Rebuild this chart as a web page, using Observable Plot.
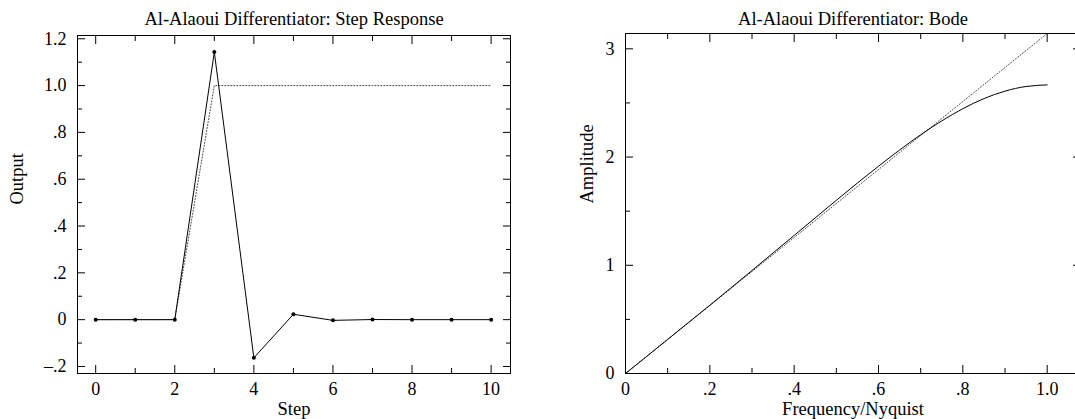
<!DOCTYPE html>
<html>
<head>
<meta charset="utf-8">
<script src="https://cdn.jsdelivr.net/npm/d3@7"></script>
<script src="https://cdn.jsdelivr.net/npm/@observablehq/plot@0.6"></script>
<style>
  body { margin: 0; background: white; }
  #wrap { display: flex; width: 1075px; height: 419px; overflow: hidden; }
  #wrap svg { flex: none; max-width: none !important; font-family: "Liberation Serif", "Times New Roman", serif !important; font-size: 18px !important; background: white; }
</style>
</head>
<body>
<div id="wrap"></div>
<script>
// ---- Data: step response ----
const steps = [0, 1, 2, 3, 4, 5, 6, 7, 8, 9, 10];
const stepOutput = [0, 0, 0, 1.143, -0.163, 0.023, -0.003, 0.0005, 0, 0, 0];
const stepIdeal = [0, 0, 0, 1, 1, 1, 1, 1, 1, 1, 1];

// ---- Data: Bode amplitude ----
const freq = [0, 0.05, 0.1, 0.15, 0.2, 0.25, 0.3, 0.35, 0.4, 0.45, 0.5,
              0.55, 0.6, 0.65, 0.7, 0.75, 0.8, 0.85, 0.9, 0.95, 1.0];
const amplitude = [0, 0.157, 0.315, 0.473, 0.631, 0.791, 0.952, 1.114, 1.276, 1.438, 1.600,
                   1.760, 1.915, 2.065, 2.206, 2.334, 2.447, 2.540, 2.609, 2.652, 2.667];
const idealFreq = [0, 1];
const idealAmp = [0, 3.1416];

// ---- Tick labels ----
const leftXMajor = [0, 2, 4, 6, 8, 10];
const leftXMinor = [1, 3, 5, 7, 9];
const leftXLabels = ["0", "2", "4", "6", "8", "10"];
const leftYMajor = [-0.2, 0, 0.2, 0.4, 0.6, 0.8, 1.0, 1.2];
const leftYMinor = [-0.1, 0.1, 0.3, 0.5, 0.7, 0.9, 1.1];
const leftYLabels = ["–.2", "0", ".2", ".4", ".6", ".8", "1.0", "1.2"];

const rightXMajor = [0, 0.2, 0.4, 0.6, 0.8, 1.0];
const rightXMinor = [0.1, 0.3, 0.5, 0.7, 0.9];
const rightXLabels = ["0", ".2", ".4", ".6", ".8", "1.0"];
const rightYMajor = [0, 1, 2, 3];
const rightYMinor = [0.5, 1.5, 2.5];
const rightYLabels = ["0", "1", "2", "3"];

const stepData = steps.map((s, i) => ({s, y: stepOutput[i], ideal: stepIdeal[i]}));
const bodeData = freq.map((f, i) => ({f, a: amplitude[i]}));
const idealData = idealFreq.map((f, i) => ({f, a: idealAmp[i]}));

function fmtFrom(values, labels) {
  return d => {
    const i = values.findIndex(v => Math.abs(v - d) < 1e-9);
    return i >= 0 ? labels[i] : "";
  };
}

function frameAxes(o) {
  const none = () => "";
  const m = [];
  for (const anchor of ["bottom", "top"]) {
    m.push(Plot.axisX(o.xMajor, {anchor, tickSize: -8, tickFormat: none, label: null}));
    m.push(Plot.axisX(o.xMinor, {anchor, tickSize: -5, tickFormat: none, label: null}));
  }
  for (const anchor of ["left", "right"]) {
    m.push(Plot.axisY(o.yMajor, {anchor, tickSize: -8, tickFormat: none, label: null}));
    m.push(Plot.axisY(o.yMinor, {anchor, tickSize: -5, tickFormat: none, label: null}));
  }
  m.push(Plot.axisX(o.xMajor, {anchor: "bottom", tickSize: 0, tickPadding: 9, fontSize: 18, tickFormat: fmtFrom(o.xMajor, o.xLabels), label: null}));
  m.push(Plot.axisY(o.yMajor, {anchor: "left", tickSize: 0, tickPadding: 11, fontSize: 18, tickFormat: fmtFrom(o.yMajor, o.yLabels), label: null}));
  m.push(Plot.frame({stroke: "black", strokeWidth: 1}));
  m.push(Plot.text([o.title], {text: d => d, frameAnchor: "top", lineAnchor: "top", dy: o.titleDy, fontSize: 18.5}));
  m.push(Plot.text([o.xLabel], {text: d => d, frameAnchor: "bottom", lineAnchor: "top", dy: 28, fontSize: 18.5}));
  m.push(Plot.text([o.yLabel], {text: d => d, frameAnchor: "left", rotate: -90, dx: o.yLabelDx, fontSize: 18.5}));
  return m;
}

const left = Plot.plot({
  width: 537, height: 419,
  marginLeft: 77, marginRight: 27, marginTop: 35, marginBottom: 46,
  x: {domain: [-0.46, 10.49], axis: null},
  y: {domain: [-0.23, 1.214], axis: null},
  marks: [
    Plot.line(stepData, {x: "s", y: "ideal", stroke: "#444", strokeWidth: 1, strokeDasharray: "1,2"}),
    Plot.line(stepData, {x: "s", y: "y", stroke: "black", strokeWidth: 1}),
    Plot.dot(stepData, {x: "s", y: "y", r: 2, fill: "black"}),
    ...frameAxes({xMajor: leftXMajor, xMinor: leftXMinor, xLabels: leftXLabels,
      yMajor: leftYMajor, yMinor: leftYMinor, yLabels: leftYLabels,
      title: "Al-Alaoui Differentiator: Step Response", xLabel: "Step", yLabel: "Output",
      yLabelDx: -60, titleDy: -24})
  ]
});

const right = Plot.plot({
  width: 543, height: 419,
  marginLeft: 88, marginRight: 0, marginTop: 33, marginBottom: 46,
  x: {domain: [0, 1.079], axis: null},
  y: {domain: [0, 3.1416], axis: null},
  marks: [
    Plot.line(idealData, {x: "f", y: "a", stroke: "#444", strokeWidth: 1, strokeDasharray: "1,2"}),
    Plot.line(bodeData, {x: "f", y: "a", stroke: "black", strokeWidth: 1, curve: "natural"}),
    ...frameAxes({xMajor: rightXMajor, xMinor: rightXMinor, xLabels: rightXLabels,
      yMajor: rightYMajor, yMinor: rightYMinor, yLabels: rightYLabels,
      title: "Al-Alaoui Differentiator: Bode", xLabel: "Frequency/Nyquist", yLabel: "Amplitude",
      yLabelDx: -38, titleDy: -22})
  ]
});

document.getElementById("wrap").append(left, right);
</script>
</body>
</html>
